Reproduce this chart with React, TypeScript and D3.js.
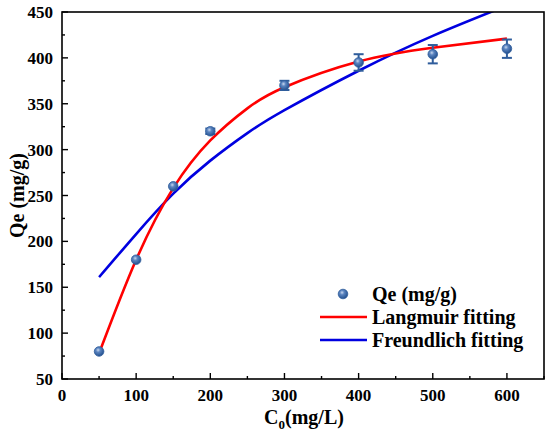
import React from 'react';
import * as d3 from 'd3';

const concentrations = [50, 100, 150, 200, 300, 400, 500, 600];
const qeValues = [80, 180, 260, 320, 370, 395, 404, 410];
const qeErrors = [0, 0, 0, 3, 5, 9, 10, 10];

// fitted curves at regular C0 steps
const fitC0 = [50, 100, 150, 200, 250, 300, 400, 500, 600];
const langmuirQe = [78, 180, 258, 310, 345, 368, 396, 411, 421];
const freundlichQe = [161, 208, 252, 288, 318, 343, 386, 424, 457];

const xTicks = [0, 100, 200, 300, 400, 500, 600];
const yTicks = [50, 100, 150, 200, 250, 300, 350, 400, 450];

const width = 550;
const height = 440;
const margin = { top: 12, right: 6, bottom: 61, left: 62 };

const font = "'Liberation Serif', 'Times New Roman', serif";

const App: React.FC = () => {
  const x = d3.scaleLinear().domain([0, 650]).range([margin.left, width - margin.right]);
  const y = d3.scaleLinear().domain([50, 450]).range([height - margin.bottom, margin.top]);

  const line = d3.line<[number, number]>()
    .x(d => x(d[0]))
    .y(d => y(d[1]))
    .curve(d3.curveNatural);

  const langmuir = line(fitC0.map((c, i) => [c, langmuirQe[i]] as [number, number])) || '';
  const freundlich = line(fitC0.map((c, i) => [c, freundlichQe[i]] as [number, number])) || '';

  const minorX = d3.range(50, 651, 100);
  const minorY = d3.range(75, 450, 50);

  const x0 = x.range()[0];
  const x1 = x.range()[1];
  const y0 = y.range()[0];
  const y1 = y.range()[1];

  const legendX = 320;
  const legendY = 294;

  return (
    <svg width={width} height={height} style={{ position: 'absolute', left: 0, top: 0, background: '#fff' }}>
      <defs>
        <radialGradient id="ball" cx="0.4" cy="0.35" r="0.65">
          <stop offset="0" stopColor="#c9d8ee" />
          <stop offset="0.35" stopColor="#5b84c0" />
          <stop offset="1" stopColor="#23508e" />
        </radialGradient>
        <clipPath id="plot">
          <rect x={x0} y={y1} width={x1 - x0} height={y0 - y1} />
        </clipPath>
      </defs>

      {/* curves */}
      <g clipPath="url(#plot)" fill="none" strokeWidth={2.6}>
        <path d={freundlich} stroke="#0000e0" />
        <path d={langmuir} stroke="#ff0000" />
      </g>

      {/* error bars and points */}
      <g stroke="#2f5d9c" strokeWidth={2}>
        {concentrations.map((c, i) => qeErrors[i] > 0 && (
          <g key={'e' + c}>
            <line x1={x(c)} x2={x(c)} y1={y(qeValues[i] - qeErrors[i])} y2={y(qeValues[i] + qeErrors[i])} />
            <line x1={x(c) - 5} x2={x(c) + 5} y1={y(qeValues[i] - qeErrors[i])} y2={y(qeValues[i] - qeErrors[i])} />
            <line x1={x(c) - 5} x2={x(c) + 5} y1={y(qeValues[i] + qeErrors[i])} y2={y(qeValues[i] + qeErrors[i])} />
          </g>
        ))}
      </g>
      {concentrations.map((c, i) => (
        <circle key={'p' + c} cx={x(c)} cy={y(qeValues[i])} r={4.8} fill="url(#ball)" stroke="#2f5d9c" strokeWidth={0.8} />
      ))}

      {/* frame */}
      <rect x={x0} y={y1} width={x1 - x0} height={y0 - y1} fill="none" stroke="#000" strokeWidth={1.6} />

      {/* ticks */}
      <g stroke="#000" strokeWidth={1.4}>
        {xTicks.map(t => <line key={'xt' + t} x1={x(t)} x2={x(t)} y1={y0} y2={y0 - 6} />)}
        {minorX.map(t => <line key={'xm' + t} x1={x(t)} x2={x(t)} y1={y0} y2={y0 - 3} />)}
        {yTicks.map(t => <line key={'yt' + t} x1={x0} x2={x0 + 6} y1={y(t)} y2={y(t)} />)}
        {minorY.map(t => <line key={'ym' + t} x1={x0} x2={x0 + 3} y1={y(t)} y2={y(t)} />)}
      </g>

      <g fontFamily={font} fontWeight="bold" fontSize={17} fill="#000">
        {xTicks.map(t => (
          <text key={'xl' + t} x={x(t)} y={y0 + 22} textAnchor="middle">{t}</text>
        ))}
        {yTicks.map(t => (
          <text key={'yl' + t} x={x0 - 9} y={y(t) + 6} textAnchor="end">{t}</text>
        ))}
      </g>

      {/* axis titles */}
      <text x={304} y={424} textAnchor="middle" fontFamily={font} fontWeight="bold" fontSize={20}>
        C<tspan fontSize={13} dy={5}>0</tspan><tspan dy={-5}>(mg/L)</tspan>
      </text>
      <text transform={`translate(24,${(y0 + y1) / 2}) rotate(-90)`} textAnchor="middle"
        fontFamily={font} fontWeight="bold" fontSize={20}>
        Qe (mg/g)
      </text>

      {/* legend */}
      <g fontFamily={font} fontWeight="bold" fontSize={20}>
        <circle cx={legendX + 23} cy={legendY} r={4.8} fill="url(#ball)" stroke="#2f5d9c" strokeWidth={0.8} />
        <text x={legendX + 52} y={legendY + 7}>Qe (mg/g)</text>
        <line x1={legendX} x2={legendX + 47} y1={legendY + 23} y2={legendY + 23} stroke="#ff0000" strokeWidth={2.6} />
        <text x={legendX + 52} y={legendY + 30}>Langmuir fitting</text>
        <line x1={legendX} x2={legendX + 47} y1={legendY + 46} y2={legendY + 46} stroke="#0000e0" strokeWidth={2.6} />
        <text x={legendX + 52} y={legendY + 53}>Freundlich fitting</text>
      </g>
    </svg>
  );
};

export default App;
